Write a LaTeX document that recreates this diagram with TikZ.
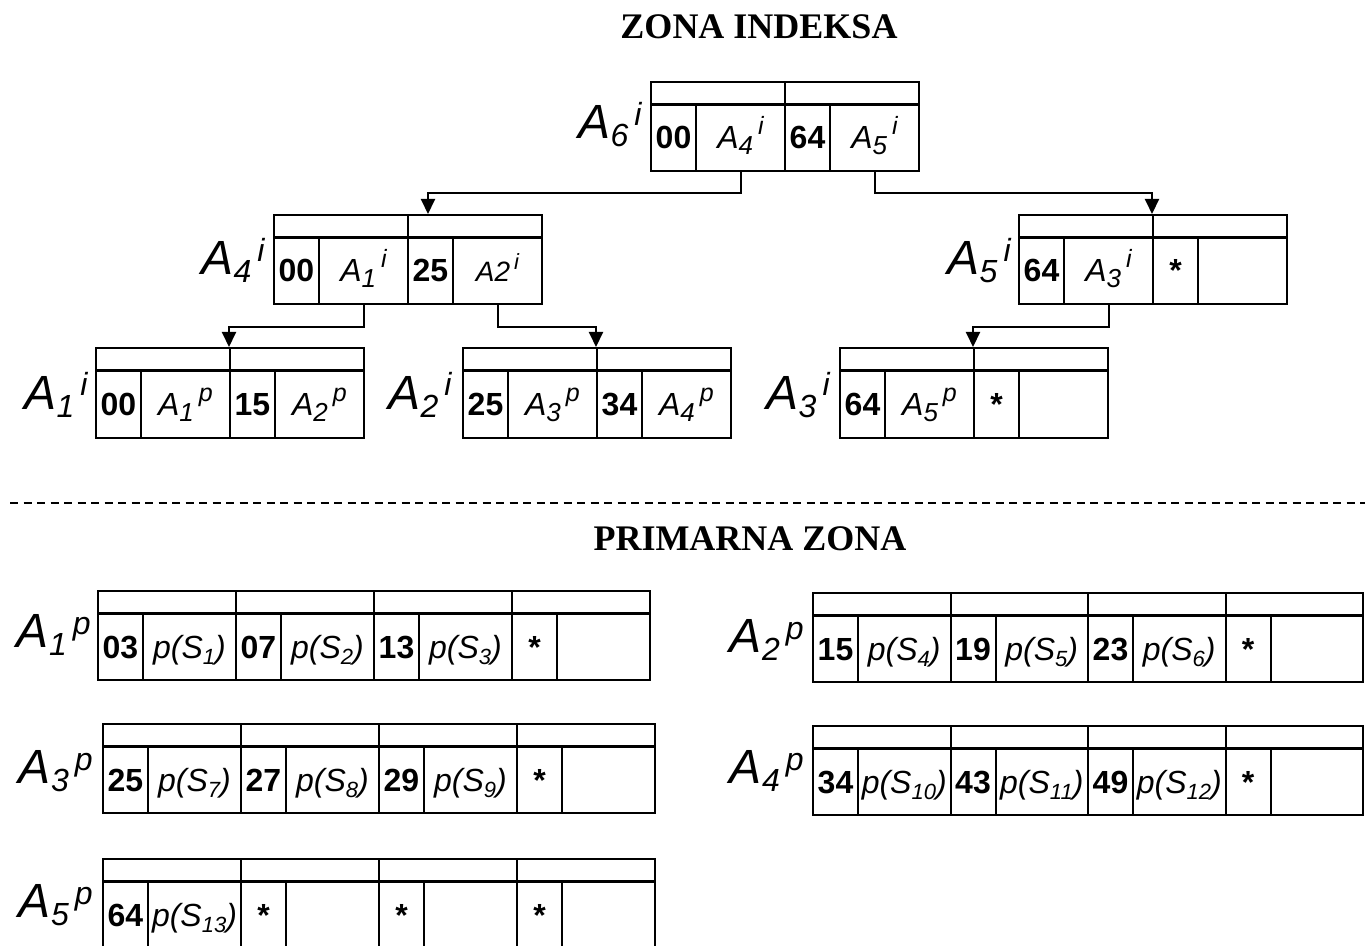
\documentclass[tikz,border=0pt]{standalone}
\usepackage{fontspec}
\setmainfont{Liberation Sans}
\newfontfamily\titlefont{Liberation Serif}
\usetikzlibrary{arrows.meta}
\def\pxu{0.5pt}
\tikzset{
  x=0.5pt, y=-0.5pt,
  cell/.style={draw, line width=1pt, inner sep=0pt, anchor=north west,
    text height=11.5pt, text depth=0pt, font=\fontsize{16}{18}\selectfont},
  arr/.style={line width=1pt, -{Triangle[width=7pt,length=7.5pt]}},
  lab/.style={anchor=base east, inner sep=0pt, font=\fontsize{24}{26}\selectfont\itshape},
  ttl/.style={anchor=base, inner sep=0pt, font=\titlefont\bfseries\fontsize{18}{20}\selectfont},
  sep/.style={line width=0.75pt, dash pattern=on 4pt off 2.75pt}
}
\newcommand\OL[2]{A\raisebox{-4pt}{\fontsize{16}{16}\selectfont #1}\hspace{3pt}\raisebox{6.5pt}{\fontsize{16}{16}\selectfont #2}}
\newcommand\CL[2]{\textit{A\raisebox{-3pt}{\fontsize{13}{13}\selectfont #1}\hspace{2.5pt}\raisebox{7pt}{\fontsize{12.5}{13}\selectfont #2}}}
\newcommand\PS[1]{\textit{p(S\raisebox{-3pt}{\fontsize{11}{11}\selectfont #1})}}
\newcommand\K[1]{\textbf{#1}}
% #1 name, #2 x, #3 y, #4 key width, #5 ptr width, #6 key text, #7 ptr text, #8 body height
\newcommand\pair[8]{%
  \node[cell, minimum width={(#4+#5)*\pxu}, minimum height={22*\pxu}] (#1t) at (#2,#3) {};
  \node[cell, minimum width={#4*\pxu}, minimum height={#8*\pxu}] (#1k) at (#2,#3+22) {#6};
  \node[cell, minimum width={#5*\pxu}, minimum height={#8*\pxu}] (#1p) at (#2+#4,#3+22) {#7};
}
\begin{document}
\begin{tikzpicture}
\useasboundingbox (0,0) rectangle (1365,946);
\clip (0,0) rectangle (1365,946);

% titles
\node[ttl] (t1) at (759,39) {ZONA INDEKSA};
\node[ttl] (t2) at (750,550) {PRIMARNA ZONA};

% index zone
\pair{A6a}{650}{81}{45}{89}{\K{00}}{\CL{4}{i}}{67}
\pair{A6b}{784}{81}{45}{89}{\K{64}}{\CL{5}{i}}{67}
\node[lab] (l6) at (642,139) {\OL{6}{i}};

\pair{A4a}{273}{214}{45}{89}{\K{00}}{\CL{1}{i}}{67}
\pair{A4b}{407}{214}{45}{89}{\K{25}}{\textit{\fontsize{14}{14}\selectfont A2\hspace{2pt}\raisebox{6pt}{\fontsize{11}{11}\selectfont i}}}{67}
\node[lab] (l4) at (265,275) {\OL{4}{i}};

\pair{A5a}{1018}{214}{45}{89}{\K{64}}{\CL{3}{i}}{67}
\pair{A5b}{1152}{214}{45}{89}{\K{*}}{}{67}
\node[lab] (l5) at (1011,275) {\OL{5}{i}};

\pair{L1a}{95}{347}{45}{89}{\K{00}}{\CL{1}{p}}{68}
\pair{L1b}{229}{347}{45}{89}{\K{15}}{\CL{2}{p}}{68}
\node[lab] (l1) at (88,409) {\OL{1}{i}};

\pair{L2a}{462}{347}{45}{89}{\K{25}}{\CL{3}{p}}{68}
\pair{L2b}{596}{347}{45}{89}{\K{34}}{\CL{4}{p}}{68}
\node[lab] (l2) at (452,409) {\OL{2}{i}};

\pair{L3a}{839}{347}{45}{89}{\K{64}}{\CL{5}{p}}{68}
\pair{L3b}{973}{347}{45}{89}{\K{*}}{}{68}
\node[lab] (l3) at (830,409) {\OL{3}{i}};

% connectors
\coordinate (t4) at (428,214);
\draw[arr] (A6ap.south) -- ++(0,21) -| (t4);
\draw[arr] (A6bp.south) -- ++(0,21) -| (A5bt.north west);
\draw[arr] (A4ap.south) -- ++(0,22) -| (L1bt.north west);
\draw[arr] (A4bp.south) -- ++(0,22) -| (L2bt.north west);
\draw[arr] (A5ap.south) -- ++(0,22) -| (L3bt.north west);

% separator
\coordinate (dl) at (10,503);
\coordinate (dr) at (1365,503);
\draw[sep] (dl) -- (dr);

% primary zone
\pair{P1a}{97}{590}{45}{93}{\K{03}}{\PS{1}}{67}
\pair{P1b}{235}{590}{45}{93}{\K{07}}{\PS{2}}{67}
\pair{P1c}{373}{590}{45}{93}{\K{13}}{\PS{3}}{67}
\pair{P1d}{511}{590}{45}{93}{\K{*}}{}{67}
\node[lab] (p1) at (91,647) {\OL{1}{p}};

\pair{P2a}{812}{592}{45}{92.5}{\K{15}}{\PS{4}}{67}
\pair{P2b}{949.5}{592}{45}{92.5}{\K{19}}{\PS{5}}{67}
\pair{P2c}{1087}{592}{45}{92.5}{\K{23}}{\PS{6}}{67}
\pair{P2d}{1224.5}{592}{45}{92.5}{\K{*}}{}{67}
\node[lab] (p2) at (804,652) {\OL{2}{p}};

\pair{P3a}{102}{723}{45}{93}{\K{25}}{\PS{7}}{67}
\pair{P3b}{240}{723}{45}{93}{\K{27}}{\PS{8}}{67}
\pair{P3c}{378}{723}{45}{93}{\K{29}}{\PS{9}}{67}
\pair{P3d}{516}{723}{45}{93}{\K{*}}{}{67}
\node[lab] (p3) at (93,783) {\OL{3}{p}};

\pair{P4a}{812}{725}{45}{92.5}{\K{34}}{\PS{10}}{67}
\pair{P4b}{949.5}{725}{45}{92.5}{\K{43}}{\PS{11}}{67}
\pair{P4c}{1087}{725}{45}{92.5}{\K{49}}{\PS{12}}{67}
\pair{P4d}{1224.5}{725}{45}{92.5}{\K{*}}{}{67}
\node[lab] (p4) at (804,783) {\OL{4}{p}};

\pair{P5a}{102}{858}{45}{93}{\K{64}}{\PS{13}}{68}
\pair{P5b}{240}{858}{45}{93}{\K{*}}{}{68}
\pair{P5c}{378}{858}{45}{93}{\K{*}}{}{68}
\pair{P5d}{516}{858}{45}{93}{\K{*}}{}{68}
\node[lab] (p5) at (93,917) {\OL{5}{p}};
\end{tikzpicture}
\end{document}
